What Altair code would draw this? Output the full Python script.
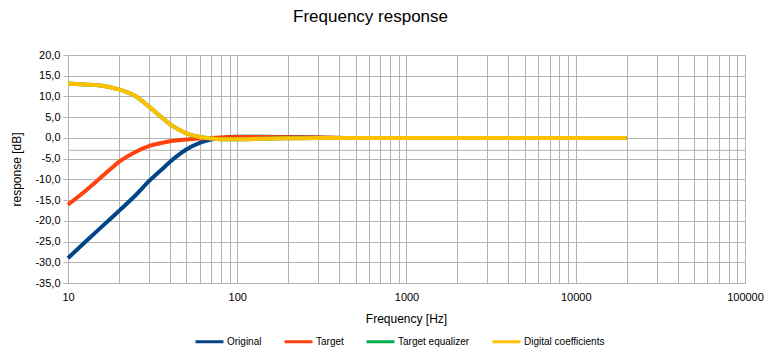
import altair as alt
import pandas as pd

freqs = [10, 12.5, 15, 17.5, 20, 25, 30, 35, 40, 45, 50, 60, 70, 80, 100, 150, 200, 300, 500, 1000, 2000, 5000, 10000, 20000]
original = [-29.0, -25.3, -22.3, -19.8, -17.6, -13.9, -10.5, -8.0, -5.8, -4.1, -2.8, -1.2, -0.4, 0.0, 0.3, 0.3, 0.2, 0.1, 0.0, 0.0, 0.0, 0.0, 0.0, 0.0]
target = [-16.1, -13.0, -10.2, -7.8, -5.8, -3.4, -2.0, -1.3, -0.8, -0.55, -0.4, -0.15, 0.0, 0.1, 0.2, 0.2, 0.15, 0.1, 0.0, 0.0, 0.0, 0.0, 0.0, 0.0]
target_eq = [13.1, 12.9, 12.7, 12.3, 11.7, 10.1, 7.6, 5.3, 3.3, 2.0, 1.1, 0.2, -0.15, -0.3, -0.3, -0.2, -0.1, 0.0, 0.0, 0.0, 0.0, 0.0, 0.0, 0.0]
digital = [13.1, 12.9, 12.7, 12.3, 11.7, 10.1, 7.6, 5.3, 3.3, 2.0, 1.1, 0.2, -0.15, -0.3, -0.3, -0.2, -0.1, 0.0, 0.0, 0.0, 0.0, 0.0, 0.0, 0.0]
ref_level = [-3]

series_names = ["Original", "Target", "Target equalizer", "Digital coefficients"]
series_colors = ["#004586", "#ff420e", "#00b050", "#ffc000"]
y_ticks = [20, 15, 10, 5, 0, -5, -10, -15, -20, -25, -30, -35]
x_grid = [d * k for d in [10, 100, 1000, 10000] for k in range(1, 10)] + [100000]

rows = []
for name, vals in zip(series_names, [original, target, target_eq, digital]):
    for f, v in zip(freqs, vals):
        rows.append({"f": f, "v": v, "series": name})
df = pd.DataFrame(rows)

grid_color = "#b3b3b3"

x_enc = alt.X(
    "f:Q",
    scale=alt.Scale(type="log", domain=[10, 100000], nice=False),
    axis=alt.Axis(
        title="Frequency [Hz]",
        values=x_grid,
        labelExpr="indexof([10,100,1000,10000,100000], datum.value) >= 0 ? format(datum.value, 'd') : ''",
        labelOverlap=False,
        ticks=False,
        grid=True,
        gridColor=grid_color,
        domainColor=grid_color,
        labelFont="Liberation Sans",
        labelFontSize=11,
        labelColor="#000000",
        labelPadding=8,
        labelFlush=False,
        titleFont="Liberation Sans",
        titleFontSize=12,
        titleFontWeight="normal",
        titleColor="#000000",
        titleX=338,
        titleY=35,
        titleBaseline="middle",
        titleAlign="center",
    ),
)

y_axis = alt.Axis(
    title="response [dB]",
    values=y_ticks,
    labelExpr="(datum.value < 0 ? '-' : '') + replace(format(abs(datum.value), '.1f'), '.', ',')",
    labelOverlap=False,
    labelFlush=False,
    tickSize=5,
    tickColor=grid_color,
    grid=True,
    gridColor=grid_color,
    domainColor=grid_color,
    labelFont="Liberation Sans",
    labelFontSize=11,
    labelColor="#000000",
    labelPadding=3,
    titleFont="Liberation Sans",
    titleFontSize=12,
    titleFontWeight="normal",
    titleColor="#000000",
    titleX=-52,
    titleY=114,
    titleAngle=270,
    titleBaseline="middle",
    titleAlign="center",
)
y_scale = alt.Scale(domain=[-35, 20], nice=False, zero=False)

lines = alt.Chart(df).mark_line(strokeWidth=4, interpolate="monotone").encode(
    x=x_enc,
    y=alt.Y("v:Q", scale=y_scale, axis=y_axis),
    color=alt.Color(
        "series:N",
        scale=alt.Scale(domain=series_names, range=series_colors),
        sort=series_names,
        legend=alt.Legend(
            title=None,
            orient="none",
            legendX=126,
            legendY=271,
            direction="horizontal",
            symbolType="stroke",
            symbolSize=784,
            symbolStrokeWidth=3,
            labelFont="Liberation Sans",
            labelFontSize=10,
            labelColor="#000000",
            labelOffset=2,
            columnPadding=16,
        ),
    ),
)

ref3 = alt.Chart(pd.DataFrame({"v": ref_level})).mark_rule(color=grid_color, strokeWidth=1).encode(
    y=alt.Y("v:Q", scale=y_scale, axis=y_axis)
)

chart = alt.layer(ref3, lines).properties(
    width=677,
    height=228,
    padding={"left": 60, "top": 47, "right": 20, "bottom": 69},
    autosize=alt.AutoSizeParams(type="none"),
    title=alt.TitleParams(
        "Frequency response",
        font="Liberation Sans",
        fontSize=17,
        fontWeight="normal",
        color="#000000",
        anchor="middle",
        dx=-36,
        offset=23,
    ),
).configure_view(stroke="transparent").configure(background="white")

chart.save("out.html", embed_options={"renderer": "svg", "actions": False})
